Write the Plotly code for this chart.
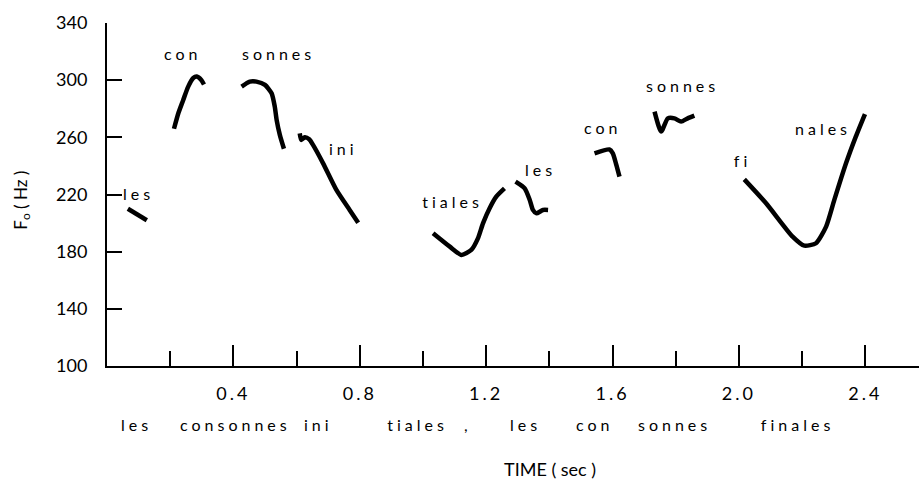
import json
import plotly.graph_objects as go

# Fundamental frequency contours (time in s, F0 in Hz), one pen stroke per syllable group
les1_t = [0.066, 0.126]
les1_f = [210, 202]

con1_t = [0.212, 0.226, 0.241, 0.257, 0.273, 0.284, 0.299, 0.307]
con1_f = [266, 277, 286, 295.5, 301.5, 302.5, 300, 297]

sonnes1_t = [0.426, 0.452, 0.473, 0.500, 0.521, 0.531, 0.537, 0.547, 0.560]
sonnes1_f = [295.5, 299, 299, 296.7, 290.8, 281.5, 272, 261.7, 252]

ini_t = [0.610, 0.615, 0.626, 0.640, 0.652, 0.684, 0.726, 0.768, 0.795]
ini_f = [262.8, 258.2, 260, 258.6, 254.7, 241.8, 223.2, 209.2, 200.3]

tiales_t = [1.032, 1.085, 1.122, 1.153, 1.174, 1.190, 1.211, 1.232, 1.258]
tiales_f = [192.9, 183.5, 177.7, 181.2, 189.3, 199.8, 210.4, 218.5, 224.3]

les2_t = [1.293, 1.322, 1.338, 1.348, 1.359, 1.380, 1.396]
les2_f = [229, 224.3, 216.2, 209.2, 206.8, 209.2, 209.2]

con2_t = [1.543, 1.590, 1.601, 1.612, 1.622]
con2_f = [248.8, 251.5, 248.8, 240.7, 232.5]

sonnes2_t = [1.733, 1.754, 1.775, 1.796, 1.817, 1.838, 1.859]
sonnes2_f = [278, 264, 273.3, 273.3, 271, 273.3, 275.2]

finales_t = [2.017, 2.086, 2.170, 2.207, 2.244, 2.276, 2.302, 2.339, 2.370, 2.399]
finales_f = [230.6, 213.9, 190.5, 184.2, 185.9, 197.5, 216.2, 241.8, 260.5, 276.3]

# Syllable labels placed beside the contours
syl_text = ["les", "con", "sonnes", "ini", "tiales", "les", "con", "sonnes", "fi", "nales"]
syl_t = [0.101, 0.240, 0.544, 0.750, 1.095, 1.371, 1.569, 1.822, 2.010, 2.267]
syl_f = [221, 319, 319, 252.3, 215, 237.6, 267, 296.6, 244, 266.3]

# Orthographic sentence written under the time axis
word_text = ["les", "consonnes", "ini", "tiales", ",", "les", "con", "sonnes", "finales"]
word_t = [0.092, 0.406, 0.668, 0.982, 1.142, 1.325, 1.546, 1.796, 2.185]

y_ticks = [100, 140, 180, 220, 260, 300, 340]
x_major = [0.4, 0.8, 1.2, 1.6, 2.0, 2.4]
x_minor = [0.2, 0.6, 1.0, 1.4, 1.8, 2.2]

FONT = "Lato"
INK = "black"

strokes = [
    (les1_t, les1_f), (con1_t, con1_f), (sonnes1_t, sonnes1_f), (ini_t, ini_f),
    (tiales_t, tiales_f), (les2_t, les2_f), (con2_t, con2_f),
    (sonnes2_t, sonnes2_f), (finales_t, finales_f),
]

fig = go.Figure()
for t, f in strokes:
    fig.add_trace(go.Scatter(
        x=t, y=f, mode="lines",
        line=dict(color=INK, width=4.5, shape="spline", smoothing=0.6),
        hoverinfo="skip", showlegend=False,
    ))

annotations = []
for txt, t, f in zip(syl_text, syl_t, syl_f):
    annotations.append(dict(
        x=t, y=f, xref="x", yref="y", text=txt, showarrow=False,
        xanchor="center", yanchor="middle",
        font=dict(family=FONT, size=16, color=INK),
    ))
for txt, t in zip(word_text, word_t):
    annotations.append(dict(
        x=t, y=-0.172, xref="x", yref="paper", text=txt, showarrow=False,
        xanchor="center", yanchor="middle",
        font=dict(family=FONT, size=16, color=INK),
    ))
annotations.append(dict(
    x=0.545, y=-0.30, xref="paper", yref="paper", text="TIME ( sec )",
    showarrow=False, xanchor="center", yanchor="middle",
    font=dict(family=FONT, size=18, color=INK),
))
annotations.append(dict(
    x=-0.105, y=0.484, xref="paper", yref="paper", text="F<sub>o</sub> ( Hz )",
    showarrow=False, xanchor="center", yanchor="middle", textangle=-90,
    font=dict(family=FONT, size=17, color=INK),
))

fig.update_layout(
    width=919, height=486,
    margin=dict(l=107, r=0, t=23, b=120),
    paper_bgcolor="white", plot_bgcolor="white",
    showlegend=False,
    annotations=annotations,
    xaxis=dict(
        range=[0, 2.57], showgrid=False, zeroline=False,
        showline=True, linecolor=INK, linewidth=2,
        tickmode="array", tickvals=x_major,
        ticktext=[f"{v:.1f}" for v in x_major],
        ticks="inside", ticklen=21, tickwidth=2, tickcolor=INK,
        ticklabelstandoff=10,
        tickfont=dict(family=FONT, size=18, color=INK),
        minor=dict(tickmode="array", tickvals=x_minor, ticks="inside",
                   ticklen=15, tickwidth=2, tickcolor=INK, showgrid=False),
    ),
    yaxis=dict(
        range=[100, 340], showgrid=False, zeroline=False,
        showline=True, linecolor=INK, linewidth=2,
        tickmode="array", tickvals=y_ticks,
        ticks="inside", ticklen=15, tickwidth=2, tickcolor=INK,
        ticklabelstandoff=14,
        tickfont=dict(family=FONT, size=18, color=INK),
    ),
)

# Typewriter-style letter spacing for the syllables, the sentence and the time ticks
spaced = sorted(set(syl_text + word_text))
post_js = """
var gd = document.getElementById('{plot_id}');
var spaced = %s;
gd.querySelectorAll('.annotation-text').forEach(function (t) {
  if (spaced.indexOf(t.textContent) >= 0) { t.style.letterSpacing = '4px'; }
});
gd.querySelectorAll('.xtick text').forEach(function (t) {
  t.style.letterSpacing = '3px';
});
""" % json.dumps(spaced)

fig.write_html("out.html", post_script=post_js)
